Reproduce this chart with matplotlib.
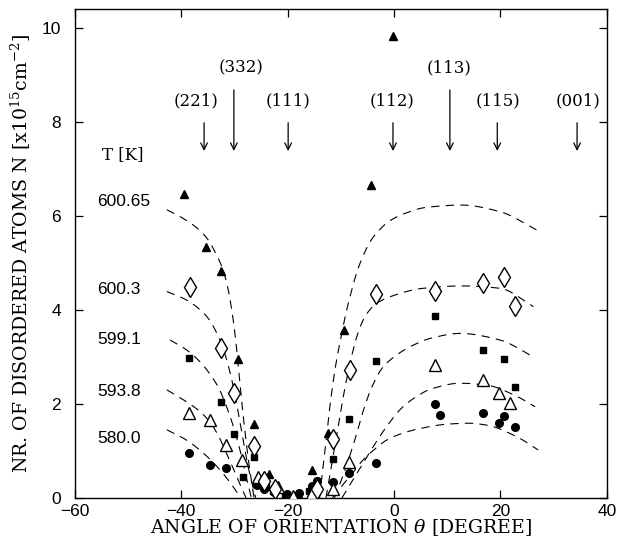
import matplotlib
matplotlib.use("Agg")
import matplotlib.pyplot as plt
import numpy as np

plt.rcParams['font.family'] = ['Liberation Sans', 'DejaVu Sans']
plt.rcParams['mathtext.fontset'] = 'dejavuserif'
plt.rcParams['lines.scale_dashes'] = False

# ---------------- data ----------------
temps = ["600.65", "600.3", "599.1", "593.8", "580.0"]
temp_label_y = [6.30, 4.43, 3.38, 2.26, 1.26]

# measured points (angle [deg], N [1e15 cm^-2])
tri_f_x = [-39.4, -35.3, -32.5, -29.4, -26.4, -23.5, -18.0, -15.5, -12.5, -9.4, -4.3, -0.2]
tri_f_y = [6.46, 5.33, 4.83, 2.96, 1.57, 0.51, 0.08, 0.60, 1.38, 3.57, 6.66, 9.83]

dia_x = [-38.3, -32.5, -30.0, -26.4, -24.5, -22.4, -14.5, -11.4, -8.3, -3.4, 7.7, 16.7, 20.7, 22.8]
dia_y = [4.48, 3.20, 2.24, 1.11, 0.35, 0.20, 0.20, 1.25, 2.72, 4.33, 4.40, 4.57, 4.69, 4.09]

sq_x = [-38.5, -32.5, -30.0, -26.4, -28.3, -24.1, -22.8, -20.5, -16.0, -14.5, -11.5, -8.4, -3.4, 7.7, 16.7, 20.7, 22.7]
sq_y = [2.97, 2.04, 1.36, 0.88, 0.45, 0.24, 0.15, 0.05, 0.15, 0.35, 0.82, 1.68, 2.92, 3.86, 3.15, 2.96, 2.37]

tri_o_x = [-38.5, -34.6, -31.5, -28.6, -25.5, -21.9, -19.0, -15.5, -11.4, -8.4, 7.7, 16.7, 19.8, 21.7]
tri_o_y = [1.80, 1.66, 1.13, 0.81, 0.45, 0.23, 0.05, 0.10, 0.18, 0.77, 2.83, 2.50, 2.23, 2.01]

circ_x = [-38.5, -34.6, -31.5, -25.8, -24.5, -22.5, -20.2, -17.8, -15.5, -14.5, -11.4, -8.4, -3.4, 7.7, 8.6, 16.7, 19.8, 20.7, 22.7]
circ_y = [0.95, 0.70, 0.63, 0.28, 0.20, 0.12, 0.09, 0.11, 0.25, 0.37, 0.33, 0.53, 0.75, 2.00, 1.77, 1.80, 1.60, 1.74, 1.50]

# fitted dashed curves: left and right branches
c1_lx = [-42.7, -40.0, -37.0, -35.0, -33.5, -32.3, -31.3, -30.5, -29.8, -29.1, -28.3, -27.3, -26.3]
c1_ly = [6.13, 5.97, 5.74, 5.50, 5.20, 4.90, 4.50, 4.00, 3.40, 2.60, 1.70, 0.75, 0.00]
c1_rx = [-14.0, -13.0, -12.0, -11.0, -10.0, -9.0, -8.0, -7.0, -6.0, -4.5, -3.0, -1.0, 2.0, 6.0, 12.7, 19.9, 26.8]
c1_ry = [0.00, 1.00, 2.00, 2.80, 3.40, 3.95, 4.40, 4.80, 5.10, 5.45, 5.67, 5.88, 6.05, 6.18, 6.23, 6.09, 5.70]

c2_lx = [-42.7, -39.0, -35.2, -33.5, -32.2, -31.0, -29.9, -28.7, -27.3, -26.0]
c2_ly = [4.39, 4.21, 3.86, 3.55, 3.20, 2.75, 2.20, 1.45, 0.60, 0.00]
c2_rx = [-12.8, -11.8, -10.6, -9.3, -8.0, -6.8, -5.5, -3.5, -0.75, 5.5, 12.7, 19.9, 26.2]
c2_ry = [0.00, 0.65, 1.45, 2.30, 3.00, 3.50, 3.85, 4.12, 4.28, 4.46, 4.51, 4.46, 4.07]

c3_lx = [-42.1, -39.0, -36.5, -34.5, -33.0, -31.5, -30.0, -28.8, -27.8, -26.8]
c3_ly = [3.36, 3.15, 2.90, 2.62, 2.35, 1.95, 1.45, 0.95, 0.45, 0.00]
c3_rx = [-11.2, -10.0, -8.6, -7.2, -5.8, -4.2, -2.3, 0.0, 3.6, 7.0, 12.4, 19.9, 26.2]
c3_ry = [0.00, 0.35, 0.80, 1.30, 1.85, 2.35, 2.75, 3.00, 3.25, 3.40, 3.50, 3.36, 3.00]

c4_lx = [-42.7, -39.6, -36.5, -34.5, -33.0, -31.6, -30.3, -29.0, -27.8]
c4_ly = [2.30, 2.09, 1.84, 1.60, 1.32, 0.98, 0.65, 0.30, 0.00]
c4_rx = [-9.8, -8.2, -5.8, -3.3, -1.0, 1.5, 4.0, 7.0, 12.4, 17.4, 23.1, 26.5]
c4_ry = [0.00, 0.30, 0.74, 1.20, 1.58, 1.92, 2.14, 2.32, 2.44, 2.40, 2.16, 1.94]

c5_lx = [-42.7, -39.0, -35.8, -33.3, -31.5, -30.0, -28.8]
c5_ly = [1.45, 1.23, 0.95, 0.67, 0.43, 0.20, 0.00]
c5_rx = [-11.6, -10.2, -8.0, -5.8, -3.5, -1.4, 1.7, 5.0, 10.0, 14.0, 17.4, 23.1, 27.1]
c5_ry = [0.00, 0.20, 0.50, 0.81, 1.05, 1.23, 1.38, 1.48, 1.57, 1.59, 1.55, 1.30, 1.02]

# orientation markers
orient_labels = ["(221)", "(332)", "(111)", "(112)", "(113)", "(115)", "(001)"]
orient_x = [-35.7, -30.1, -19.9, -0.2, 10.5, 19.4, 34.4]
orient_text_x = [-37.3, -28.7, -19.9, -0.3, 10.4, 19.6, 34.6]
orient_long = [False, True, False, False, True, False, False]


def pchip(x, y, n=300):
    """Monotone cubic interpolation to draw a smooth line through read points."""
    x = np.asarray(x, float); y = np.asarray(y, float)
    h = np.diff(x); d = np.diff(y) / h
    m = np.zeros_like(y)
    for k in range(1, len(x) - 1):
        if d[k - 1] * d[k] > 0:
            w1 = 2 * h[k] + h[k - 1]; w2 = h[k] + 2 * h[k - 1]
            m[k] = (w1 + w2) / (w1 / d[k - 1] + w2 / d[k])
    m[0] = d[0]; m[-1] = d[-1]
    xs = np.linspace(x[0], x[-1], n)
    idx = np.clip(np.searchsorted(x, xs) - 1, 0, len(h) - 1)
    t = (xs - x[idx]) / h[idx]
    h00 = 2 * t**3 - 3 * t**2 + 1; h10 = t**3 - 2 * t**2 + t
    h01 = -2 * t**3 + 3 * t**2; h11 = t**3 - t**2
    ys = h00 * y[idx] + h10 * h[idx] * m[idx] + h01 * y[idx + 1] + h11 * h[idx] * m[idx + 1]
    return xs, ys


# ---------------- figure ----------------
fig = plt.figure(figsize=(6.18, 5.46), dpi=100)
ax = fig.add_axes([0.121, 0.088, 0.861, 0.8955])
ax.set_xlim(-60, 40)
ax.set_ylim(0, 10.4)

dash = (0, (6, 4.5))
for lx, ly, rx, ry in [(c1_lx, c1_ly, c1_rx, c1_ry), (c2_lx, c2_ly, c2_rx, c2_ry),
                       (c3_lx, c3_ly, c3_rx, c3_ry), (c4_lx, c4_ly, c4_rx, c4_ry),
                       (c5_lx, c5_ly, c5_rx, c5_ry)]:
    for xs, ys in [(lx, ly), (rx, ry)]:
        sx, sy = pchip(xs, ys)
        ax.plot(sx, sy, color='black', lw=0.8, linestyle=dash, zorder=2)

ax.plot(circ_x, circ_y, 'o', color='black', ms=5.5, zorder=3)
ax.plot(sq_x, sq_y, 's', color='black', ms=5, zorder=3)
ax.plot(tri_f_x, tri_f_y, '^', color='black', ms=6, zorder=3)
ax.plot(tri_o_x, tri_o_y, '^', mfc='white', mec='black', mew=1.0, ms=8.5, zorder=4)
ax.plot(dia_x, dia_y, 'd', mfc='white', mec='black', mew=1.0, ms=10, zorder=4)

serif = ['DejaVu Serif']
for lab, tx, ax_x, lng in zip(orient_labels, orient_text_x, orient_x, orient_long):
    ty = 9.15 if lng else 8.45
    y0 = 8.68 if lng else 7.98
    ax.text(tx, ty, lab, ha='center', va='center', fontsize=12, family=serif)
    ax.annotate('', xy=(ax_x, 7.38), xytext=(ax_x, y0),
                arrowprops=dict(arrowstyle='->', color='black', lw=0.9,
                                mutation_scale=12, shrinkA=0, shrinkB=0))

ax.text(-54.9, 7.3, "T [K]", ha='left', va='center', fontsize=12, family=serif)
for t, ty in zip(temps, temp_label_y):
    ax.text(-55.8, ty, t, ha='left', va='center', fontsize=12.5)

ax.set_xticks([-60, -40, -20, 0, 20, 40])
ax.set_yticks([0, 2, 4, 6, 8, 10])
ax.set_xticklabels(["\u221260", "\u221240", "\u221220", "0", "20", "40"])
ax.tick_params(direction='in', length=6, width=0.9, top=True, right=True,
               labelsize=12.5)
ax.tick_params(axis='x', pad=4)
ax.tick_params(axis='y', pad=10)
for s in ax.spines.values():
    s.set_linewidth(1.0)

ax.set_xlabel(r"ANGLE OF ORIENTATION $\theta$ [DEGREE]", fontsize=13.6, family=serif, labelpad=-1)
ax.set_ylabel(r"NR. OF DISORDERED ATOMS N [x10$^{15}$cm$^{-2}$]", fontsize=13.6, family=serif, labelpad=6)

fig.savefig("out.png", dpi=100)
